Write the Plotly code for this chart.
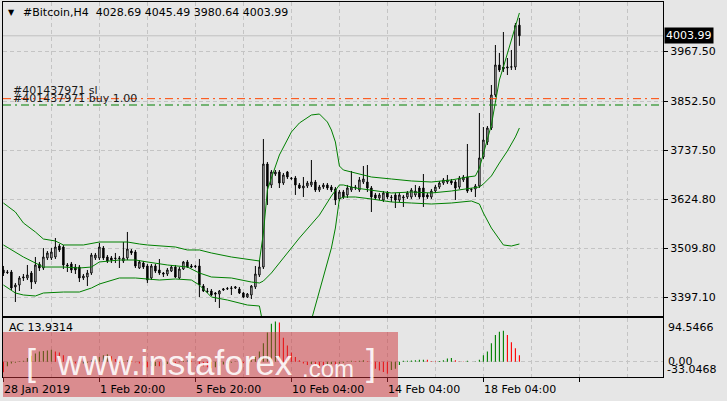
import plotly.graph_objects as go

# ---------------- data ----------------
bar_idx = list(range(130))

opens = [
3459.9, 3455.2, 3455.2, 3420.4, 3425.0, 3441.3, 3441.3, 3452.9, 3432.0, 3473.8,
3464.5, 3487.8, 3487.8, 3490.1, 3515.6, 3513.3, 3471.5, 3473.8, 3466.8, 3466.8,
3441.3, 3443.6, 3452.9, 3487.8, 3487.8, 3511.0, 3490.1, 3487.8, 3487.8, 3487.8,
3480.8, 3487.8, 3504.0, 3501.7, 3464.5, 3476.1, 3469.2, 3441.3, 3469.2, 3459.9,
3452.9, 3450.6, 3457.5, 3466.8, 3441.3, 3462.2, 3478.5, 3469.2, 3469.2, 3469.2,
3422.7, 3411.1, 3411.1, 3406.4, 3404.1, 3413.4, 3415.7, 3416.9, 3418.0, 3415.7,
3406.4, 3397.1, 3401.8, 3420.4, 3448.3, 3466.8, 3706.1, 3657.4, 3682.9, 3687.6,
3662.0, 3687.6, 3673.6, 3673.6, 3657.4, 3650.4, 3655.0, 3657.4, 3664.3, 3645.8,
3652.7, 3657.4, 3652.7, 3648.1, 3624.9, 3641.1, 3634.2, 3645.8, 3652.7, 3645.8,
3664.3, 3664.3, 3650.4, 3634.2, 3627.2, 3622.5, 3638.8, 3629.5, 3634.2, 3622.5,
3627.2, 3629.5, 3629.5, 3634.2, 3650.4, 3650.4, 3634.2, 3629.5, 3643.4, 3652.7,
3662.0, 3664.3, 3666.7, 3664.3, 3652.7, 3669.0, 3675.9, 3645.8, 3648.1, 3655.0,
3722.4, 3757.3, 3789.8, 3866.5, 3936.2, 3931.5, 3929.2, 3931.0, 3931.5, 4028.69]

highs = [
3469.2, 3459.9, 3459.9, 3429.7, 3445.9, 3450.6, 3471.5, 3457.5, 3490.1, 3478.5,
3511.0, 3504.0, 3511.0, 3534.2, 3520.3, 3518.0, 3476.1, 3478.5, 3473.8, 3471.5,
3450.6, 3459.9, 3499.4, 3499.4, 3522.6, 3515.6, 3494.7, 3492.4, 3499.4, 3492.4,
3524.9, 3548.2, 3508.7, 3506.4, 3483.1, 3480.8, 3473.8, 3473.8, 3473.8, 3485.4,
3455.2, 3464.5, 3471.5, 3471.5, 3466.8, 3480.8, 3483.1, 3473.8, 3471.5, 3485.4,
3427.3, 3418.0, 3415.7, 3408.7, 3413.4, 3418.0, 3420.4, 3422.7, 3422.7, 3420.4,
3408.7, 3406.4, 3425.0, 3469.2, 3483.1, 3764.2, 3710.8, 3692.2, 3692.2, 3692.2,
3685.2, 3689.9, 3675.9, 3678.3, 3662.0, 3675.9, 3666.7, 3715.4, 3669.0, 3657.4,
3662.0, 3662.0, 3657.4, 3652.7, 3645.8, 3645.8, 3657.4, 3689.9, 3657.4, 3675.9,
3701.5, 3703.8, 3655.0, 3638.8, 3638.8, 3643.4, 3643.4, 3634.2, 3638.8, 3638.8,
3634.2, 3643.4, 3650.4, 3657.4, 3655.0, 3682.9, 3638.8, 3648.1, 3657.4, 3666.7,
3673.6, 3680.6, 3671.3, 3669.0, 3678.3, 3680.6, 3752.6, 3650.4, 3659.7, 3824.6,
3792.1, 3794.4, 3889.7, 3982.6, 3964.1, 4012.8, 3952.4, 3971.0, 4033.8, 4045.49]

lows = [
3445.9, 3450.6, 3413.4, 3385.5, 3411.1, 3434.3, 3436.6, 3415.7, 3427.3, 3457.5,
3459.9, 3483.1, 3483.1, 3485.4, 3501.7, 3462.2, 3455.2, 3452.9, 3450.6, 3432.0,
3436.6, 3422.7, 3448.3, 3483.1, 3483.1, 3483.1, 3476.1, 3476.1, 3476.1, 3464.5,
3476.1, 3483.1, 3494.7, 3464.5, 3462.2, 3462.2, 3429.7, 3436.6, 3452.9, 3448.3,
3443.6, 3445.9, 3455.2, 3441.3, 3439.0, 3459.9, 3464.5, 3464.5, 3464.5, 3397.1,
3408.7, 3406.4, 3399.5, 3385.5, 3371.6, 3411.1, 3413.4, 3401.8, 3415.7, 3404.1,
3394.8, 3394.8, 3392.5, 3415.7, 3443.6, 3462.2, 3610.9, 3650.4, 3678.3, 3650.4,
3657.4, 3671.3, 3669.0, 3634.2, 3648.1, 3629.5, 3650.4, 3652.7, 3641.1, 3641.1,
3648.1, 3645.8, 3641.1, 3610.9, 3620.2, 3624.9, 3627.2, 3641.1, 3645.8, 3641.1,
3659.7, 3641.1, 3594.6, 3622.5, 3622.5, 3617.9, 3624.9, 3617.9, 3603.9, 3617.9,
3606.3, 3624.9, 3624.9, 3629.5, 3624.9, 3606.3, 3624.9, 3624.9, 3638.8, 3648.1,
3657.4, 3659.7, 3657.4, 3622.5, 3648.1, 3664.3, 3638.8, 3641.1, 3629.5, 3650.4,
3717.8, 3750.3, 3785.1, 3861.8, 3919.9, 3919.9, 3912.9, 3924.6, 3924.6, 3980.64]

closes = [
3452.9, 3454.1, 3418.0, 3425.0, 3441.3, 3443.6, 3448.3, 3432.0, 3471.5, 3464.5,
3490.1, 3499.4, 3501.7, 3513.3, 3506.4, 3471.5, 3469.2, 3459.9, 3459.9, 3441.3,
3445.9, 3452.9, 3494.7, 3494.7, 3513.3, 3487.8, 3480.8, 3483.1, 3486.6, 3486.6,
3487.8, 3508.7, 3499.4, 3469.2, 3478.5, 3466.8, 3436.6, 3469.2, 3457.5, 3452.9,
3450.6, 3459.9, 3466.8, 3443.6, 3462.2, 3478.5, 3466.8, 3466.8, 3468.0, 3425.0,
3411.1, 3409.9, 3401.8, 3404.1, 3411.1, 3415.7, 3416.9, 3418.0, 3420.4, 3406.4,
3397.1, 3404.1, 3422.7, 3450.6, 3466.8, 3706.1, 3655.0, 3687.6, 3687.6, 3662.0,
3680.6, 3675.9, 3672.5, 3657.4, 3650.4, 3655.0, 3662.0, 3664.3, 3645.8, 3652.7,
3657.4, 3650.4, 3645.8, 3622.5, 3641.1, 3629.5, 3650.4, 3652.7, 3651.5, 3669.0,
3671.3, 3650.4, 3629.5, 3627.2, 3634.2, 3638.8, 3629.5, 3628.3, 3622.5, 3634.2,
3629.5, 3638.8, 3645.8, 3643.4, 3629.5, 3629.5, 3629.5, 3643.4, 3652.7, 3662.0,
3669.0, 3669.0, 3662.0, 3650.4, 3673.6, 3675.9, 3643.4, 3646.9, 3655.0, 3720.1,
3761.9, 3789.8, 3866.5, 3936.2, 3924.6, 3926.9, 3931.5, 3932.0, 4028.0, 4003.99]

# Bollinger bands (at selected bars)
bb_up_idx = [0, 3, 5, 8, 10, 13, 15, 20, 24, 31, 34, 36, 43, 46, 49, 52, 57, 62, 64, 65,
             66, 67, 69, 72, 74, 77, 79, 81, 82, 83, 84, 85, 88, 92, 97, 102, 107, 112, 116, 118,
             119, 120, 122, 123, 124, 125, 127, 129]
bb_up_val = [3615.5, 3594.6, 3569.1, 3548.2, 3531.9, 3527.3, 3518.0, 3518.0, 3524.9, 3524.9,
             3520.3, 3518.0, 3513.3, 3506.4, 3506.4, 3499.4, 3490.1, 3483.1, 3480.8, 3545.8,
             3645.8, 3673.6, 3727.1, 3780.5, 3801.4, 3820.0, 3822.3, 3803.7, 3785.1, 3757.3,
             3701.5, 3692.2, 3685.2, 3675.9, 3671.3, 3666.7, 3664.3, 3669.0, 3675.9, 3678.3,
             3696.9, 3731.7, 3796.8, 3850.0, 3901.3, 3931.5, 3994.3, 4057.0]

bb_mid_idx = [0, 3, 5, 8, 10, 15, 19, 22, 24, 29, 33, 36, 41, 46, 49, 52, 57, 62, 64, 65,
              67, 70, 74, 79, 82, 84, 85, 88, 92, 97, 102, 107, 112, 116, 119, 120, 122, 124, 126, 128,
              129]
bb_mid_val = [3518.0, 3501.7, 3490.1, 3476.1, 3466.8, 3466.8, 3464.5, 3466.8, 3478.5, 3483.1,
              3483.1, 3478.5, 3471.5, 3466.8, 3452.9, 3443.6, 3441.3, 3432.0, 3429.7, 3434.3,
              3452.9, 3487.8, 3534.2, 3587.6, 3631.8, 3657.4, 3657.4, 3650.4, 3645.8, 3638.8,
              3641.1, 3638.8, 3643.4, 3648.1, 3652.7, 3659.7, 3678.3, 3708.5, 3736.4, 3769.0,
              3789.8]

bb_low_idx = [0, 3, 5, 8, 10, 15, 19, 22, 24, 29, 33, 36, 39, 43, 47, 49, 52, 56, 61, 64,
              65, 67, 70, 74, 77, 79, 81, 82, 83, 84, 85, 88, 92, 97, 102, 107, 112, 117, 119, 120,
              122, 124, 125, 127, 129]
bb_low_val = [3425.0, 3406.4, 3401.8, 3399.5, 3406.4, 3408.7, 3408.7, 3418.0, 3427.3, 3441.3,
              3441.3, 3439.0, 3436.6, 3439.0, 3436.6, 3425.0, 3397.1, 3390.1, 3378.5, 3376.2,
              3322.8, 3236.8, 3222.9, 3269.3, 3343.7, 3408.7, 3478.5, 3511.0, 3557.4, 3624.9,
              3629.5, 3629.5, 3624.9, 3617.9, 3615.5, 3613.2, 3615.5, 3620.2, 3613.2, 3592.3,
              3557.4, 3529.5, 3518.0, 3515.6, 3520.3]

# Accelerator oscillator
ac = [
-22.8, -10.0, -4.0, -2.0, 1.0, 2.0, 8.0, 13.0, 18.0, 22.0,
23.0, 24.0, 26.0, 22.0, 20.0, 14.0, 7.0, 0.5, -4.0, -6.0,
-4.0, -2.0, 3.0, 6.0, 10.0, 14.0, 16.0, 12.0, 6.0, -2.0,
1.0, 3.0, 2.0, -1.0, -4.0, -8.0, -12.0, -10.0, -9.0, -10.0,
-8.0, -5.0, -2.0, -3.0, -1.0, 2.0, 3.0, 2.0, 0.0, -6.0,
-10.0, -12.0, -14.0, -12.0, -9.0, -6.0, -4.0, -2.0, 0.5, -1.0,
-3.0, -1.0, 3.0, 10.0, 22.0, 40.0, 63.0, 82.0, 87.0, 85.0,
52.0, 35.0, 20.0, 10.0, 3.0, -4.0, -7.0, -5.0, -7.0, -9.0,
-10.0, -8.0, -5.0, -7.0, -4.0, -2.0, 0.5, 2.0, 1.0, 2.0,
3.0, 1.0, -5.0, -15.0, -19.0, -22.0, -26.0, -18.0, -15.0, -7.0,
2.0, 2.2, 2.4, 3.0, 4.0, 4.5, 4.0, 1.0, 0.8, 1.5,
3.0, 7.0, 8.0, 3.0, 0.5, 0.3, 2.0, 0.2, 0.4, 4.0,
14.0, 22.0, 40.0, 58.0, 65.0, 67.0, 58.0, 42.0, 29.0, 13.9314]

price_ticks = [3967.50, 3852.50, 3737.50, 3624.80, 3509.80, 3397.10]
time_tick_idx = [0, 24, 48, 72, 96, 120]
time_tick_text = ["28 Jan 2019", "1 Feb 20:00", "5 Feb 20:00", "10 Feb 04:00", "14 Feb 04:00", "18 Feb 04:00"]

symbol = "#Bitcoin,H4"
last_ohlc = [4028.69, 4045.49, 3980.64, 4003.99]
sl_level = 3857.9
buy_level = 3843.2
order_id = "#401437971"
ac_top, ac_bottom = 94.5466, -33.0468

# ---------------- layout helpers ----------------
W, H = 727, 401
ML, MR, MT, MB = 3, 64, 2, 24
PW, PH = W - ML - MR, H - MT - MB
def px(x):
    return (x - ML) / PW
def py(y):
    return (H - MB - y) / PH

FONT = "DejaVu Sans"
BG = "#e6e6e6"
GRID = "#c4c4c4"
GREEN = "#008000"

fig = go.Figure()

fig.add_trace(go.Candlestick(
    x=bar_idx, open=opens, high=highs, low=lows, close=closes,
    increasing=dict(line=dict(color="black", width=1), fillcolor="white"),
    decreasing=dict(line=dict(color="black", width=1), fillcolor="black"),
    whiskerwidth=0, xaxis="x", yaxis="y", showlegend=False))

for ix, vals in [(bb_up_idx, bb_up_val), (bb_mid_idx, bb_mid_val), (bb_low_idx, bb_low_val)]:
    fig.add_trace(go.Scatter(x=ix, y=vals, mode="lines", line=dict(color=GREEN, width=1),
                             xaxis="x", yaxis="y", showlegend=False, hoverinfo="skip"))

ac_colors = ["#ff0000" if i == 0 or ac[i] <= ac[i - 1] else GREEN for i in range(len(ac))]
fig.add_trace(go.Bar(x=bar_idx, y=ac, marker=dict(color=ac_colors, line=dict(width=0)),
                     width=0.28, xaxis="x2", yaxis="y2", showlegend=False))

xr = [-0.1, 164.9]
main_dom = [py(316), 1.0]
sub_dom = [0.0, py(318)]

fig.update_layout(
    width=W, height=H, margin=dict(l=ML, r=MR, t=MT, b=MB, autoexpand=False),
    paper_bgcolor=BG, plot_bgcolor=BG, showlegend=False,
    boxgap=0.5,
    font=dict(family=FONT, size=11, color="black"),
    xaxis=dict(domain=[0, 1], range=xr, anchor="y", rangeslider=dict(visible=False),
               tickmode="linear", tick0=0, dtick=12, showgrid=True, gridcolor=GRID,
               griddash="4px,3px", gridwidth=1, showticklabels=False, ticks="",
               showline=True, mirror=True, linecolor="black", linewidth=1, zeroline=False),
    yaxis=dict(domain=main_dom, range=[3353.0, 4082.5], side="right", anchor="x",
               tickmode="array", tickvals=price_ticks,
               ticktext=["%.2f" % v for v in price_ticks],
               showgrid=True, gridcolor=GRID, griddash="4px,3px", gridwidth=1,
               ticks="outside", ticklen=4, tickcolor="black", automargin=False,
               tickfont=dict(family=FONT, size=11, color="black"),
               showline=True, mirror=True, linecolor="black", linewidth=1, zeroline=False),
    xaxis2=dict(domain=[0, 1], range=xr, anchor="y2", matches="x",
                tickmode="linear", tick0=0, dtick=24, showgrid=True, gridcolor=GRID,
                griddash="4px,3px", gridwidth=1, showticklabels=False,
                ticks="outside", ticklen=4, tickcolor="black",
                minor=dict(tick0=0, dtick=12, showgrid=True, gridcolor=GRID,
                           griddash="4px,3px", gridwidth=1, ticks=""),
                showline=True, mirror=True, linecolor="black", linewidth=1, zeroline=False),
    yaxis2=dict(domain=sub_dom, range=[ac_bottom, ac_top], side="right", anchor="x2",
                tickmode="array", tickvals=[0], showticklabels=False,
                showgrid=True, gridcolor=GRID, griddash="4px,3px", gridwidth=1,
                ticks="", showline=True, mirror=True, linecolor="black", linewidth=1,
                zeroline=False),
    hovermode=False,
)

shapes = []
# bid line
shapes.append(dict(type="line", xref="x domain", yref="y", x0=0, x1=1,
                   y0=last_ohlc[3], y1=last_ohlc[3], line=dict(color="#c0c0c0", width=1),
                   layer="below"))
shapes.append(dict(type="line", xref="x domain", yref="y", x0=0, x1=1,
                   y0=sl_level, y1=sl_level,
                   line=dict(color="#ff4500", width=1, dash="8px,4px,2px,4px"), layer="above"))
shapes.append(dict(type="line", xref="x domain", yref="y", x0=0, x1=1,
                   y0=buy_level, y1=buy_level,
                   line=dict(color=GREEN, width=1, dash="8px,4px,2px,4px"), layer="above"))
# watermark box
shapes.append(dict(type="rect", xref="paper", yref="paper", x0=px(3), x1=px(398),
                   y0=py(397), y1=py(332), fillcolor="rgba(205,50,55,0.5)",
                   line=dict(width=0), layer="above"))
fig.update_layout(shapes=shapes)

ann = []
def A(text, x, y, size=11, color="black", xanchor="left", family=FONT, **kw):
    ann.append(dict(text=text, x=px(x), y=py(y), xref="paper", yref="paper",
                    xanchor=xanchor, yanchor="middle", showarrow=False,
                    font=dict(family=family, size=size, color=color), **kw))

A("\u25BC", 6, 12.5, size=8)
A(symbol + "\u00a0\u00a0" + " ".join("%.2f" % v for v in last_ohlc), 21, 12.5)
A(order_id + " sl", 11, 91, color="#1a1a1a")
A(order_id + " buy 1.00", 11, 98.5, color="#1a1a1a")
# price tag
ann.append(dict(text="%.2f" % last_ohlc[3], x=1, xref="paper", y=last_ohlc[3], yref="y",
                 xanchor="left", yanchor="middle", xshift=1, showarrow=False,
                 bgcolor="black", borderpad=1,
                 font=dict(family=FONT, size=11, color="white")))
# time labels
for i, t in zip(time_tick_idx, time_tick_text):
    ann.append(dict(text=t, x=i, xref="x2", y=py(389), yref="paper", xanchor="left",
                    yanchor="middle", showarrow=False, xshift=-1,
                    font=dict(family=FONT, size=11, color="black")))
# AC labels
A("AC %.4f" % ac[-1], 7, 327.5)
A("%.4f" % ac_top, 666, 327.5)
A("0.00", 666, 361)
A("%.4f" % ac_bottom, 665, 369.5)
# watermark text
WM = "rgba(255,255,255,0.9)"
WF = "Liberation Sans"
A("[", 24, 362, size=36, color=WM, family=WF)
A("www.instaforex", 54, 362, size=35, color=WM, family=WF)
A(".com", 300, 368, size=24, color=WM, family=WF)
A("]", 364, 362, size=36, color=WM, family=WF)

fig.update_layout(annotations=ann)

fig.write_html("out.html", config={"displayModeBar": False, "staticPlot": True},
               post_script="document.body.style.margin='0';document.body.style.padding='0';")
